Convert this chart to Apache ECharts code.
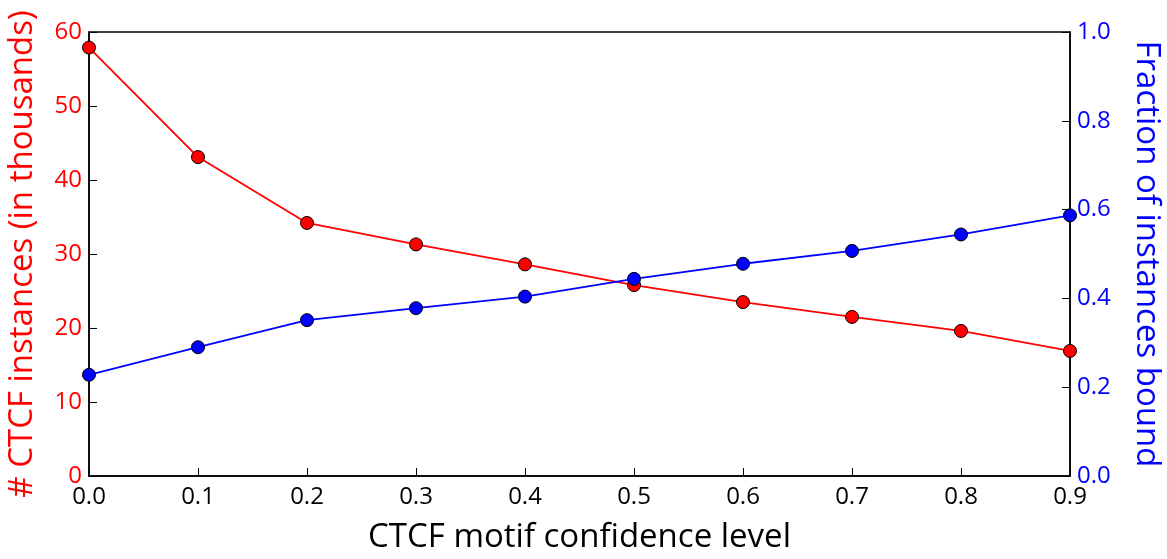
<!DOCTYPE html>
<html><head><meta charset="utf-8">
<script src="https://cdn.jsdelivr.net/npm/echarts@6/dist/echarts.min.js"></script>
<style>html,body{margin:0;padding:0;background:#fff}#c{width:1167px;height:559px}</style>
</head><body><div id="c"></div>
<script>
const confidence = [0.0, 0.1, 0.2, 0.3, 0.4, 0.5, 0.6, 0.7, 0.8, 0.9];
const instances = [57.9, 43.1, 34.2, 31.3, 28.6, 25.8, 23.5, 21.5, 19.6, 16.9];
const fractionBound = [0.228, 0.290, 0.351, 0.378, 0.404, 0.444, 0.478, 0.507, 0.544, 0.587];
const FONT = '"Open Sans", "Noto Sans", sans-serif';
const chart = echarts.init(document.getElementById('c'));
chart.setOption({
  animation: false,
  backgroundColor: '#fff',
  grid: {left: 89, right: 97, top: 32, bottom: 83, outerBoundsMode: 'none', containLabel: false, show: true, borderColor: '#000', borderWidth: 1.5, backgroundColor: 'transparent'},
  xAxis: {
    type: 'value', min: 0, max: 0.9, interval: 0.1,
    name: 'CTCF motif confidence level', nameLocation: 'middle', nameGap: 45,
    nameTextStyle: {color: '#000', fontSize: 33, fontFamily: FONT},
    axisLine: {lineStyle: {color: '#000', width: 1.5}},
    axisTick: {inside: true, length: 8, lineStyle: {color: '#000'}},
    axisLabel: {color: '#000', fontSize: 24, fontFamily: FONT, margin: 9, formatter: v => v.toFixed(1)},
    splitLine: {show: false}
  },
  yAxis: [{
    type: 'value', min: 0, max: 60, interval: 10, position: 'left',
    name: '# CTCF instances (in thousands)', nameLocation: 'middle', nameGap: 50, nameRotate: 90,
    nameTextStyle: {color: '#ff0000', fontSize: 33, fontFamily: FONT},
    axisLine: {show: true, lineStyle: {color: '#000', width: 1.5}},
    axisTick: {show: true, inside: true, length: 8, lineStyle: {color: '#000'}},
    axisLabel: {color: '#ff0000', fontSize: 24, fontFamily: FONT, margin: 7},
    splitLine: {show: false}
  }, {
    type: 'value', min: 0, max: 1, interval: 0.2, position: 'right',
    name: 'Fraction of instances bound', nameLocation: 'middle', nameGap: 60, nameRotate: -90,
    nameTextStyle: {color: '#0000ff', fontSize: 33, fontFamily: FONT},
    axisLine: {show: true, lineStyle: {color: '#000', width: 1.5}},
    axisTick: {show: true, inside: true, length: 8, lineStyle: {color: '#000'}},
    axisLabel: {color: '#0000ff', fontSize: 24, fontFamily: FONT, margin: 7, formatter: v => v.toFixed(1)},
    splitLine: {show: false}
  }],
  series: [{
    type: 'line', yAxisIndex: 0,
    data: confidence.map((x, i) => [x, instances[i]]),
    symbol: 'circle', symbolSize: 13, clip: false,
    lineStyle: {color: '#ff0000', width: 1.8},
    itemStyle: {color: '#ff0000', borderColor: '#000', borderWidth: 1}
  }, {
    type: 'line', yAxisIndex: 1,
    data: confidence.map((x, i) => [x, fractionBound[i]]),
    symbol: 'circle', symbolSize: 13, clip: false,
    lineStyle: {color: '#0000ff', width: 1.8},
    itemStyle: {color: '#0000ff', borderColor: '#000', borderWidth: 1}
  }]
});
</script></body></html>
